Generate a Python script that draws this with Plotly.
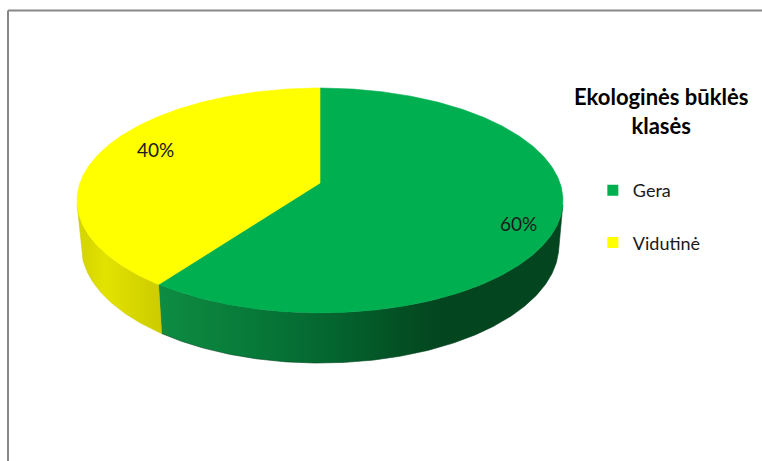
import numpy as np
import plotly.graph_objects as go

# ---- data -------------------------------------------------------------
CATEGORIES = ["Gera", "Vidutinė"]
SHARES = [60, 40]
LEGEND_TITLE = "Ekologinės būklės<br>klasės"

# ---- style --------------------------------------------------------------
TOP_COLORS = ["#00B050", "#FFFF00"]
# side shading (screen-x pixel, colour) for each slice
SIDE_SHADES = [
    [(78, "#119646"), (160, "#0e8c42"), (250, "#077a39"), (330, "#04662f"),
     (400, "#035024"), (440, "#03451f"), (562, "#02451f")],
    [(78, "#d6d600"), (105, "#e3e300"), (160, "#cccc00"), (562, "#cccc00")],
]
FONT = "Lato"
W, H = 762, 461

# tilted-disc projection (pixel space)
CX, CY = 320.0, 183.0
TILT = np.radians(27.2)
CAM_DIST = 5.72
FOCAL = 1373.0
THICK = 0.2125
LABEL_SHIFT = 6.0
LABEL_RADII = [0.855, 0.79]


def project(phi_deg, r=1.0, level=0.0):
    """Map a point of the disc (angle clockwise from 12 o'clock) to pixels."""
    phi = np.radians(phi_deg)
    X = r * np.sin(phi)
    Z = -r * np.cos(phi)
    yp = level * np.cos(TILT) - Z * np.sin(TILT)
    zp = level * np.sin(TILT) + Z * np.cos(TILT)
    w = CAM_DIST - zp
    return CX + FOCAL * X / w, CY - FOCAL * yp / w


def arc(a0, a1, level=0.0, n=None):
    n = n or max(int(abs(a1 - a0) * 2), 4)
    return project(np.linspace(a0, a1, n), 1.0, level)


total = float(sum(SHARES))
spans = [360.0 * v / total for v in SHARES]
starts = np.concatenate([[0.0], np.cumsum(spans)[:-1]])

# visible part of the rim (tangent lines seen from the camera)
tangent = np.degrees(np.arccos(1.0 / (CAM_DIST * np.cos(TILT))))
vis_lo, vis_hi = 180.0 - tangent, 180.0 + tangent

fig = go.Figure()

# side walls
x_lo, x_hi = project(270.0 + 10)[0] - 5, project(90.0 + 10)[0] + 5
for i, (s, sp) in enumerate(zip(starts, spans)):
    a0, a1 = max(s, vis_lo), min(s + sp, vis_hi)
    if a1 <= a0:
        continue
    tx, ty = arc(a0, a1, 0.0)
    bx, by = arc(a1, a0, -THICK)
    xs = np.concatenate([tx, bx, tx[:1]])
    ys = np.concatenate([ty, by, ty[:1]])
    scale = [[min(max((px - x_lo) / (x_hi - x_lo), 0), 1), c] for px, c in SIDE_SHADES[i]]
    scale[0][0], scale[-1][0] = 0.0, 1.0
    fig.add_trace(go.Scatter(
        x=xs, y=ys, mode="lines", fill="toself",
        line=dict(width=0.6, color=SIDE_SHADES[i][-1][1]),
        fillgradient=dict(type="horizontal", colorscale=scale, start=x_lo, stop=x_hi),
        hoverinfo="skip", showlegend=False))

# top faces
for i, (s, sp) in enumerate(zip(starts, spans)):
    ax, ay = arc(s, s + sp, 0.0)
    xs = np.concatenate([[CX], ax, [CX]])
    ys = np.concatenate([[CY], ay, [CY]])
    fig.add_trace(go.Scatter(
        x=xs, y=ys, mode="lines", fill="toself", fillcolor=TOP_COLORS[i],
        line=dict(width=0.6, color=TOP_COLORS[i]),
        name=CATEGORIES[i], hoverinfo="name", showlegend=False))

# percentage labels
for i, (s, sp) in enumerate(zip(starts, spans)):
    lx, ly = project(s + sp / 2 + LABEL_SHIFT, LABEL_RADII[i])
    fig.add_annotation(x=float(lx), y=float(ly), xref="x", yref="y",
                       text=f"{round(100 * SHARES[i] / total)}%", showarrow=False,
                       font=dict(family=FONT, size=19, color="#1a1a1a"))

# legend entries
for i, cat in enumerate(CATEGORIES):
    fig.add_trace(go.Scatter(
        x=[None], y=[None], mode="markers", name=cat, legendgroup=cat,
        marker=dict(symbol="square", size=11, color=TOP_COLORS[i])))

fig.add_annotation(x=661, y=111, xref="x", yref="y", text=f"<b>{LEGEND_TITLE}</b>",
                   showarrow=False, align="center",
                   font=dict(family=FONT, size=22, color="#000000"))

# chart frame
fig.add_shape(type="line", x0=8, x1=W + 5, y0=10.5, y1=10.5, xref="x", yref="y",
              line=dict(color="#878787", width=2))
fig.add_shape(type="line", x0=8, x1=8, y0=10.5, y1=H + 5, xref="x", yref="y",
              line=dict(color="#878787", width=2))

fig.update_layout(
    width=W, height=H, autosize=False,
    margin=dict(l=0, r=0, t=0, b=0),
    paper_bgcolor="white", plot_bgcolor="white",
    xaxis=dict(range=[0, W], visible=False, fixedrange=True),
    yaxis=dict(range=[H, 0], visible=False, fixedrange=True),
    showlegend=True,
    legend=dict(x=0.778, y=1 - 172 / H, xanchor="left", yanchor="top",
                traceorder="grouped", tracegroupgap=26,
                font=dict(family=FONT, size=18, color="#1a1a1a"),
                bgcolor="rgba(0,0,0,0)"),
    font=dict(family=FONT),
)

fig.write_html("out.html")
